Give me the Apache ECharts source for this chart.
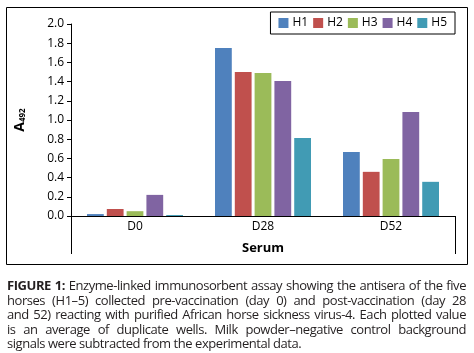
<!DOCTYPE html>
<html>
<head>
<meta charset="utf-8">
<script src="https://cdn.jsdelivr.net/npm/echarts@6/dist/echarts.min.js"></script>
<style>
  html, body { margin: 0; padding: 0; background: #fff; }
  #chart { position: absolute; left: 0; top: 0; width: 474px; height: 353px; }
  #caption {
    position: absolute; left: 7px; top: 278px; width: 459px;
    font-family: "Open Sans", sans-serif; font-size: 13px; line-height: 14.6px; color: #231f20;
    letter-spacing: -0.45px;
  }
  #caption div { text-align: justify; text-align-last: justify; white-space: nowrap; }
  #caption div.last { text-align-last: left; }
</style>
</head>
<body>
<div id="chart"></div>
<div id="caption">
  <div><b>FIGURE 1:</b> Enzyme-linked immunosorbent assay showing the antisera of the five</div>
  <div>horses (H1–5) collected pre-vaccination (day 0) and post-vaccination (day 28</div>
  <div>and 52) reacting with purified African horse sickness virus-4. Each plotted value</div>
  <div>is an average of duplicate wells. Milk powder–negative control background</div>
  <div class="last">signals were subtracted from the experimental data.</div>
</div>
<script>
// sera collection days
var categories = ['D0', 'D28', 'D52'];
var horses = ['H1', 'H2', 'H3', 'H4', 'H5'];
// A492 per horse, one value per serum
var h1 = [0.02, 1.75, 0.667];
var h2 = [0.073, 1.50, 0.46];
var h3 = [0.05, 1.49, 0.594];
var h4 = [0.22, 1.405, 1.083];
var h5 = [0.01, 0.813, 0.356];
var colors = ['#4F81BD', '#C0504D', '#9BBB59', '#8064A2', '#419BB4'];

var values = [h1, h2, h3, h4, h5];
var series = horses.map(function (name, i) {
    return {
        name: name,
        type: 'bar',
        data: values[i],
        barGap: '18%',
        barCategoryGap: '25%',
        itemStyle: { color: colors[i] },
        animation: false
    };
});

var font = '"Open Sans", sans-serif';

var option = {
    backgroundColor: '#fff',
    grid: { left: 71, right: 19, top: 24, bottom: 137 },
    legend: {
        data: horses,
        right: 19,
        top: 12,
        icon: 'rect',
        itemWidth: 10,
        itemHeight: 10,
        itemGap: 5,
        padding: [5, 8, 5, 8],
        borderColor: '#000',
        borderWidth: 1,
        textStyle: { fontFamily: font, fontSize: 12, color: '#000', padding: [0, 0, 0, -1] }
    },
    xAxis: {
        type: 'category',
        data: categories,
        name: 'Serum',
        nameLocation: 'middle',
        nameGap: 26,
        nameTextStyle: { fontFamily: font, fontSize: 13, fontWeight: 'bold', color: '#000' },
        axisLine: { lineStyle: { color: '#000', width: 1 } },
        axisTick: { show: false },
        axisLabel: { fontFamily: font, fontSize: 12, color: '#000', margin: 5 }
    },
    yAxis: {
        type: 'value',
        min: 0,
        max: 2,
        interval: 0.2,
        name: '{a|A}{s|492}',
        nameLocation: 'middle',
        nameGap: 44,
        nameTextStyle: {
            rich: {
                a: { fontFamily: font, fontSize: 14, fontWeight: 'bold', color: '#000' },
                s: { fontFamily: font, fontSize: 8, fontWeight: 'bold', color: '#000', padding: [6, 0, 0, 0] }
            }
        },
        splitLine: { show: false },
        axisLine: { show: true, lineStyle: { color: '#000', width: 1 } },
        axisTick: { show: true, length: 4, lineStyle: { color: '#000' } },
        axisLabel: {
            fontFamily: font, fontSize: 12, color: '#000', margin: 7,
            formatter: function (v) { return v.toFixed(1); }
        }
    },
    graphic: [
        { type: 'rect', shape: { x: 6.5, y: 7.5, width: 461, height: 257 }, style: { fill: null, stroke: '#000', lineWidth: 1 }, silent: true },
        { type: 'line', shape: { x1: 71.5, y1: 216, x2: 71.5, y2: 254 }, style: { stroke: '#000', lineWidth: 1 }, silent: true },
        { type: 'line', shape: { x1: 455.5, y1: 216, x2: 455.5, y2: 254 }, style: { stroke: '#000', lineWidth: 1 }, silent: true }
    ],
    series: series
};

var chart = echarts.init(document.getElementById('chart'), null, { renderer: 'canvas' });
chart.setOption(option);
</script>
</body>
</html>
